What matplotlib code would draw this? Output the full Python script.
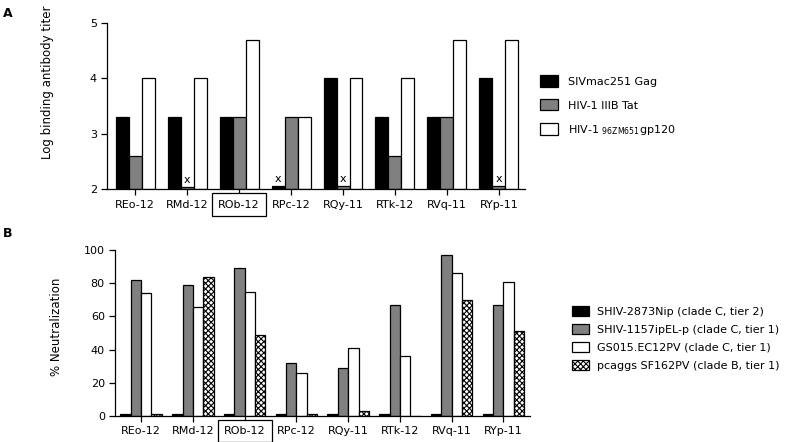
import numpy as np
import matplotlib.pyplot as plt
from matplotlib.patches import Patch

plt.rcParams['font.family'] = ['DejaVu Sans']
plt.rcParams['hatch.linewidth'] = 0.8

# data
animals = ['REo-12', 'RMd-12', 'ROb-12', 'RPc-12', 'RQy-11', 'RTk-12', 'RVq-11', 'RYp-11']

gag = [3.3, 3.3, 3.3, 2.06, 4.0, 3.3, 3.3, 4.0]
tat = [2.6, 2.04, 3.3, 3.3, 2.06, 2.6, 3.3, 2.06]
gp120 = [4.0, 4.0, 4.7, 3.3, 4.0, 4.0, 4.7, 4.7]
a_names = ['SIVmac251 Gag', 'HIV-1 IIIB Tat', r'HIV-1 $_{\mathrm{96ZM651}}$gp120']

shiv2873 = [1, 1, 1, 1, 1, 1, 1, 1]
shiv1157 = [82, 79, 89, 32, 29, 67, 97, 67]
gs015 = [74, 66, 75, 26, 41, 36, 86, 81]
sf162 = [1, 84, 49, 1, 3, 0, 70, 51]
b_names = ['SHIV-2873Nip (clade C, tier 2)', 'SHIV-1157ipEL-p (clade C, tier 1)',
           'GS015.EC12PV (clade C, tier 1)', 'pcaggs SF162PV (clade B, tier 1)']

x = np.arange(len(animals))
fig = plt.figure(figsize=(8, 4.42), dpi=100)

def style(ax):
    ax.spines['top'].set_visible(False)
    ax.spines['right'].set_visible(False)
    ax.spines['left'].set_linewidth(0.9)
    ax.spines['bottom'].set_linewidth(0.9)
    ax.tick_params(length=4, width=0.9, labelsize=8, direction='out')
    ax.set_xticks(x)
    ax.set_xticklabels(animals)
    lab = ax.get_xticklabels()[2]
    lab.set_bbox(dict(boxstyle='square,pad=0.55', fc='white', ec='black', lw=0.9))

# panel A
axA = fig.add_axes([0.134, 0.572, 0.522, 0.376])
w = 0.25
colsA = ['black', '#808080', 'white']
for i, vals in enumerate([gag, tat, gp120]):
    axA.bar(x + (i - 1) * w, np.array(vals) - 2, w, bottom=2,
            color=colsA[i], edgecolor='black', linewidth=0.9)
# x marks over the undetected responses
for xi, v, off in [(1, tat[1], 0), (3, gag[3], -1), (4, tat[4], 0), (7, tat[7], 0)]:
    axA.text(xi + off * w, v + 0.03, 'x', ha='center', va='bottom', fontsize=8)
axA.set_ylim(2, 5)
axA.set_yticks([2, 3, 4, 5])
axA.set_xlim(-0.54, 7.5)
style(axA)
axA.set_ylabel('Log binding antibody titer', fontsize=8.5)
axA.yaxis.set_label_coords(-0.127, 0.645)
hA = [Patch(fc=c, ec='black', lw=0.9) for c in colsA]
fig.legend(hA, a_names, loc='upper left', bbox_to_anchor=(0.662, 0.852), frameon=False,
           fontsize=8, handlelength=1.7, handleheight=1.2, labelspacing=1.1, handletextpad=0.9)

# panel B
axB = fig.add_axes([0.144, 0.059, 0.519, 0.375])
w = 0.2
colsB = ['black', '#808080', 'white', 'white']
for i, vals in enumerate([shiv2873, shiv1157, gs015, sf162]):
    axB.bar(x + (i - 1.5) * w, vals, w, color=colsB[i], edgecolor='black',
            linewidth=0.9, hatch='xxxxxx' if i == 3 else None)
axB.set_ylim(0, 100)
axB.set_yticks([0, 20, 40, 60, 80, 100])
axB.set_xlim(-0.5, 7.52)
style(axB)
axB.set_ylabel('% Neutralization', fontsize=8.5)
axB.yaxis.set_label_coords(-0.125, 0.54)
hB = [Patch(fc=c, ec='black', lw=0.9, hatch='xxxxxx' if i == 3 else None) for i, c in enumerate(colsB)]
fig.legend(hB, b_names, loc='upper left', bbox_to_anchor=(0.702, 0.33), frameon=False,
           fontsize=8, handlelength=1.6, handleheight=1.0, labelspacing=0.65, handletextpad=0.7)

fig.text(0.004, 0.985, 'A', fontsize=9, fontweight='bold', va='top')
fig.text(0.004, 0.487, 'B', fontsize=9, fontweight='bold', va='top')

plt.savefig('out.png', dpi=100)
